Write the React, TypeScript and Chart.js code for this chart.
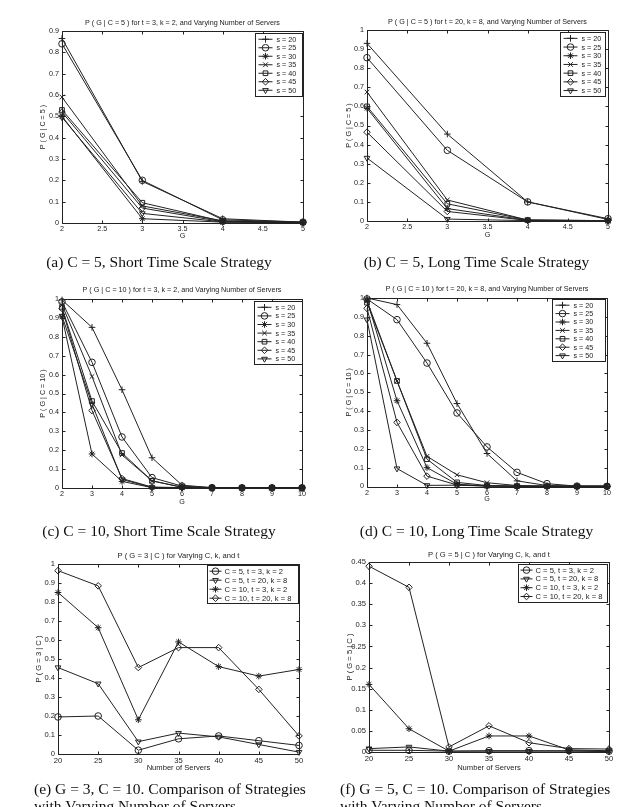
import React, { useEffect, useRef } from "react";
import { Chart, registerables } from "chart.js";
import { drawPoint } from "chart.js/helpers";

Chart.register(...registerables);

const INK = "#222222";
const SANS = '"Liberation Sans", Arial, Helvetica, sans-serif';
const SERIF = '"Liberation Serif", "Times New Roman", serif';

// ---- data ---------------------------------------------------------------

const SERVERS = [20, 25, 30, 35, 40, 45, 50];
const G_C5 = [2, 3, 4, 5];
const G_C10 = [2, 3, 4, 5, 6, 7, 8, 9, 10];

// P(G | C = 5), t = 3, k = 2 : one row per server count (s = 20 .. 50), columns G = 2..5
const SHORT_C5 = [
  [0.865, 0.195, 0.02, 0.004],
  [0.84, 0.2, 0.015, 0.004],
  [0.5, 0.02, 0.004, 0.002],
  [0.59, 0.08, 0.01, 0.003],
  [0.53, 0.095, 0.008, 0.003],
  [0.52, 0.07, 0.006, 0.003],
  [0.495, 0.045, 0.005, 0.002],
];

// P(G | C = 5), t = 20, k = 8
const LONG_C5 = [
  [0.93, 0.455, 0.1, 0.008],
  [0.855, 0.37, 0.1, 0.012],
  [0.59, 0.065, 0.004, 0.002],
  [0.675, 0.11, 0.005, 0.002],
  [0.6, 0.09, 0.005, 0.002],
  [0.465, 0.05, 0.003, 0.002],
  [0.33, 0.01, 0.002, 0.001],
];

// P(G | C = 10), t = 3, k = 2 : columns G = 2..10
const SHORT_C10 = [
  [0.995, 0.85, 0.52, 0.16, 0.015, 0.002, 0.001, 0.001, 0.001],
  [0.985, 0.665, 0.27, 0.055, 0.01, 0.002, 0.001, 0.001, 0.001],
  [0.905, 0.18, 0.035, 0.002, 0.002, 0.001, 0.001, 0.001, 0.001],
  [0.97, 0.59, 0.175, 0.038, 0.004, 0.001, 0.001, 0.001, 0.001],
  [0.955, 0.46, 0.185, 0.038, 0.004, 0.001, 0.001, 0.001, 0.001],
  [0.95, 0.41, 0.05, 0.005, 0.002, 0.001, 0.001, 0.001, 0.001],
  [0.91, 0.445, 0.045, 0.003, 0.002, 0.001, 0.001, 0.001, 0.001],
];

// P(G | C = 10), t = 20, k = 8
const LONG_C10 = [
  [1.0, 0.965, 0.76, 0.44, 0.175, 0.03, 0.005, 0.001, 0.001],
  [0.995, 0.885, 0.655, 0.39, 0.21, 0.075, 0.015, 0.002, 0.001],
  [0.99, 0.455, 0.1, 0.012, 0.003, 0.001, 0.001, 0.001, 0.001],
  [0.985, 0.56, 0.16, 0.062, 0.02, 0.005, 0.002, 0.001, 0.001],
  [0.975, 0.56, 0.145, 0.022, 0.005, 0.002, 0.001, 0.001, 0.001],
  [0.945, 0.34, 0.055, 0.008, 0.003, 0.001, 0.001, 0.001, 0.001],
  [0.885, 0.095, 0.006, 0.007, 0.002, 0.001, 0.001, 0.001, 0.001],
];

const SERVER_LABELS = SERVERS.map((s) => `s = ${s}`);

const STRATEGY_LABELS = [
  "C = 5, t = 3, k = 2",
  "C = 5, t = 20, k = 8",
  "C = 10, t = 3, k = 2",
  "C = 10, t = 20, k = 8",
];
const STRATEGY_TABLES = [SHORT_C5, LONG_C5, SHORT_C10, LONG_C10];
// columns G = 3 and G = 5 across server counts
const AT_G3 = STRATEGY_TABLES.map((t) => t.map((row) => row[G_C5.indexOf(3)]));
const AT_G5 = STRATEGY_TABLES.map((t) => t.map((row) => row[G_C5.indexOf(5)]));

// ---- marker styles --------------------------------------------------------

type Marker = { style: string; rotation?: number };
const SERVER_MARKERS: Marker[] = [
  { style: "cross" },
  { style: "circle" },
  { style: "star" },
  { style: "crossRot" },
  { style: "rect" },
  { style: "rectRot" },
  { style: "triangle", rotation: 180 },
];
const STRATEGY_MARKERS: Marker[] = [
  { style: "circle" },
  { style: "triangle", rotation: 180 },
  { style: "star" },
  { style: "rectRot" },
];

// ---- plugins --------------------------------------------------------------

// Closed box with inward tick marks on all four sides.
const axesBox = {
  id: "axesBox",
  afterDatasetsDraw(chart: any) {
    const { ctx, chartArea: a, scales } = chart;
    const x = scales.x;
    const y = scales.y;
    const L = Math.round(a.left) + 0.5;
    const R = Math.round(a.right) + 0.5;
    const T = Math.round(a.top) + 0.5;
    const B = Math.round(a.bottom) + 0.5;
    const len = 3;
    ctx.save();
    ctx.strokeStyle = INK;
    ctx.lineWidth = 1;
    ctx.beginPath();
    ctx.rect(L, T, R - L, B - T);
    x.ticks.forEach((t: any) => {
      const px = Math.round(x.getPixelForValue(t.value)) + 0.5;
      ctx.moveTo(px, B);
      ctx.lineTo(px, B - len);
      ctx.moveTo(px, T);
      ctx.lineTo(px, T + len);
    });
    y.ticks.forEach((t: any) => {
      const py = Math.round(y.getPixelForValue(t.value)) + 0.5;
      ctx.moveTo(L, py);
      ctx.lineTo(L + len, py);
      ctx.moveTo(R, py);
      ctx.lineTo(R - len, py);
    });
    ctx.stroke();
    ctx.restore();
  },
};

// Boxed legend in the upper right corner, line sample with marker in the middle.
const boxLegend = {
  id: "boxLegend",
  afterDraw(chart: any, _args: any, o: any) {
    if (!o || !o.show) return;
    const { ctx, chartArea: a } = chart;
    const sets = chart.data.datasets;
    ctx.save();
    ctx.font = `${o.fontSize}px ${SANS}`;
    const w = o.width;
    const h = o.padTop * 2 + o.rowH * sets.length;
    const x0 = Math.round(a.right - o.offsetRight - w) + 0.5;
    const y0 = Math.round(a.top + o.offsetTop) + 0.5;
    ctx.fillStyle = "#fff";
    ctx.fillRect(x0, y0, w, h);
    ctx.strokeStyle = INK;
    ctx.lineWidth = 1;
    ctx.strokeRect(x0, y0, Math.round(w), Math.round(h));
    sets.forEach((d: any, i: number) => {
      const cy = y0 + o.padTop + o.rowH * (i + 0.5);
      const sx = x0 + o.padLeft;
      ctx.beginPath();
      ctx.moveTo(sx, cy);
      ctx.lineTo(sx + o.sample, cy);
      ctx.stroke();
      ctx.fillStyle = "rgba(0,0,0,0)";
      drawPoint(
        ctx,
        {
          pointStyle: d.pointStyle,
          rotation: d.pointRotation || 0,
          radius: d.pointRadius,
          borderWidth: 1,
        } as any,
        sx + o.sample / 2,
        cy
      );
      ctx.fillStyle = INK;
      ctx.textBaseline = "middle";
      ctx.textAlign = "left";
      ctx.fillText(d.label, sx + o.sample + o.gap, cy + 0.5);
    });
    ctx.restore();
  },
};

// ---- panels ---------------------------------------------------------------

type Legend = {
  width: number;
  offsetRight: number;
  offsetTop: number;
  rowH: number;
  padTop: number;
  padLeft: number;
  sample: number;
  gap: number;
};

type PanelSpec = {
  box: [number, number, number, number]; // canvas left, top, width, height
  area: [number, number, number, number]; // plot area left, top, right, bottom
  titleY: number;
  yTitleX: number;
  xTitleY: number;
  font: number;
  title: string;
  xTitle: string;
  yTitle: string;
  xs: number[];
  xMin: number;
  xMax: number;
  xStep: number;
  yMax: number;
  yStep: number;
  labels: string[];
  markers: Marker[];
  series: number[][];
  legend: Legend;
};

function buildConfig(p: PanelSpec): any {
  const [cl, ct, cw, ch] = p.box;
  const [L, T, R, B] = p.area;
  const lh = p.font * 1.2;
  const titlePadTop = p.titleY - ct - lh / 2;
  const titlePadBottom = T - ct - titlePadTop - lh;
  const yAxisW = L - (p.yTitleX - lh / 2);
  const xAxisH = p.xTitleY + lh / 2 - B;
  const font = { family: SANS, size: p.font, lineHeight: 1.2 };
  const fmt = (v: any) => String(Number(Number(v).toFixed(3)));

  return {
    type: "line",
    data: {
      datasets: p.series.map((vals, i) => ({
        label: p.labels[i],
        data: p.xs.map((x, j) => ({ x, y: vals[j] })),
        borderColor: INK,
        borderWidth: 1,
        backgroundColor: "rgba(0,0,0,0)",
        pointStyle: p.markers[i].style,
        pointRotation: p.markers[i].rotation || 0,
        pointRadius: 3.3,
        pointBorderWidth: 1,
        pointBorderColor: INK,
        pointBackgroundColor: "rgba(0,0,0,0)",
        tension: 0,
        clip: false,
      })),
    },
    options: {
      responsive: false,
      animation: false,
      devicePixelRatio: 1,
      events: [],
      layout: {
        padding: {
          left: L - cl - yAxisW,
          right: cl + cw - R,
          top: 0,
          bottom: ct + ch - B - xAxisH,
        },
      },
      plugins: {
        legend: { display: false },
        tooltip: { enabled: false },
        title: {
          display: true,
          text: p.title,
          fullSize: false,
          color: INK,
          font: { ...font, weight: "normal" },
          padding: { top: titlePadTop, bottom: titlePadBottom },
        },
        boxLegend: { show: true, fontSize: p.font, ...p.legend },
      },
      scales: {
        x: {
          type: "linear",
          min: p.xMin,
          max: p.xMax,
          ticks: {
            stepSize: p.xStep,
            autoSkip: false,
            maxRotation: 0,
            padding: 2,
            color: INK,
            font,
            callback: fmt,
          },
          grid: { display: false, drawTicks: false, tickLength: 0 },
          border: { display: false },
          title: { display: true, text: p.xTitle, color: INK, font, padding: 0 },
          afterFit: (s: any) => {
            s.height = xAxisH;
          },
        },
        y: {
          type: "linear",
          min: 0,
          max: p.yMax,
          ticks: {
            stepSize: p.yStep,
            autoSkip: false,
            padding: 3,
            color: INK,
            font,
            callback: fmt,
          },
          grid: { display: false, drawTicks: false, tickLength: 0 },
          border: { display: false },
          title: { display: true, text: p.yTitle, color: INK, font, padding: 0 },
          afterFit: (s: any) => {
            s.width = yAxisW;
          },
        },
      },
    },
    plugins: [axesBox, boxLegend],
  };
}

const SERVER_LEGEND_BASE = { rowH: 8.5, padTop: 1.5, padLeft: 3, sample: 14, gap: 4 };

const PANELS: PanelSpec[] = [
  {
    box: [0, 0, 318, 250],
    area: [62, 31, 303, 223],
    titleY: 22.7,
    yTitleX: 43,
    xTitleY: 236.5,
    font: 7.2,
    title: "P ( G | C = 5 ) for t = 3, k = 2, and Varying Number of Servers",
    xTitle: "G",
    yTitle: "P ( G | C = 5 )",
    xs: G_C5,
    xMin: 2,
    xMax: 5,
    xStep: 0.5,
    yMax: 0.9,
    yStep: 0.1,
    labels: SERVER_LABELS,
    markers: SERVER_MARKERS,
    series: SHORT_C5,
    legend: { ...SERVER_LEGEND_BASE, width: 47, offsetRight: 1, offsetTop: 2 },
  },
  {
    box: [318, 0, 317, 250],
    area: [367, 30, 608, 221],
    titleY: 22,
    yTitleX: 349,
    xTitleY: 235.5,
    font: 7.2,
    title: "P ( G | C = 5 ) for t = 20, k = 8, and Varying Number of Servers",
    xTitle: "G",
    yTitle: "P ( G | C = 5 )",
    xs: G_C5,
    xMin: 2,
    xMax: 5,
    xStep: 0.5,
    yMax: 1,
    yStep: 0.1,
    labels: SERVER_LABELS,
    markers: SERVER_MARKERS,
    series: LONG_C5,
    legend: { ...SERVER_LEGEND_BASE, rowH: 8.7, width: 45, offsetRight: 3, offsetTop: 2 },
  },
  {
    box: [0, 268, 318, 250],
    area: [62, 299, 302, 488],
    titleY: 290,
    yTitleX: 43,
    xTitleY: 502,
    font: 7.2,
    title: "P ( G | C = 10 ) for t = 3, k = 2, and Varying Number of Servers",
    xTitle: "G",
    yTitle: "P ( G | C = 10 )",
    xs: G_C10,
    xMin: 2,
    xMax: 10,
    xStep: 1,
    yMax: 1,
    yStep: 0.1,
    labels: SERVER_LABELS,
    markers: SERVER_MARKERS,
    series: SHORT_C10,
    legend: { ...SERVER_LEGEND_BASE, rowH: 8.6, width: 48, offsetRight: 0, offsetTop: 1.5 },
  },
  {
    box: [318, 268, 317, 250],
    area: [367, 298, 607, 486.5],
    titleY: 289,
    yTitleX: 349,
    xTitleY: 499.5,
    font: 7.2,
    title: "P ( G | C = 10 ) for t = 20, k = 8, and Varying Number of Servers",
    xTitle: "G",
    yTitle: "P ( G | C = 10 )",
    xs: G_C10,
    xMin: 2,
    xMax: 10,
    xStep: 1,
    yMax: 1,
    yStep: 0.1,
    labels: SERVER_LABELS,
    markers: SERVER_MARKERS,
    series: LONG_C10,
    legend: { ...SERVER_LEGEND_BASE, rowH: 8.4, width: 53, offsetRight: 2, offsetTop: 1 },
  },
  {
    box: [0, 535, 318, 250],
    area: [58, 564, 299, 754],
    titleY: 556,
    yTitleX: 39,
    xTitleY: 767.5,
    font: 7.6,
    title: "P ( G = 3 | C ) for Varying C, k, and t",
    xTitle: "Number of Servers",
    yTitle: "P ( G = 3 | C )",
    xs: SERVERS,
    xMin: 20,
    xMax: 50,
    xStep: 5,
    yMax: 1,
    yStep: 0.1,
    labels: STRATEGY_LABELS,
    markers: STRATEGY_MARKERS,
    series: AT_G3,
    legend: { rowH: 9, padTop: 1.2, padLeft: 2, sample: 12, gap: 3, width: 91, offsetRight: 1, offsetTop: 0.5 },
  },
  {
    box: [318, 535, 317, 250],
    area: [369, 562, 609, 752],
    titleY: 555,
    yTitleX: 350,
    xTitleY: 767.5,
    font: 7.6,
    title: "P ( G = 5 | C ) for Varying C, k, and t",
    xTitle: "Number of Servers",
    yTitle: "P ( G = 5 | C )",
    xs: SERVERS,
    xMin: 20,
    xMax: 50,
    xStep: 5,
    yMax: 0.45,
    yStep: 0.05,
    labels: STRATEGY_LABELS,
    markers: STRATEGY_MARKERS,
    series: AT_G5,
    legend: { rowH: 8.8, padTop: 1.2, padLeft: 2, sample: 12, gap: 3, width: 89, offsetRight: 2, offsetTop: 2 },
  },
];

type Caption = { lines: string[]; left: number; width: number; top: number; align: "center" | "left" };
const CAPTIONS: Caption[] = [
  { lines: ["(a) C = 5, Short Time Scale Strategy"], left: 0, width: 318, top: 253, align: "center" },
  { lines: ["(b) C = 5, Long Time Scale Strategy"], left: 318, width: 317, top: 253, align: "center" },
  { lines: ["(c) C = 10, Short Time Scale Strategy"], left: 0, width: 318, top: 522, align: "center" },
  { lines: ["(d) C = 10, Long Time Scale Strategy"], left: 318, width: 317, top: 522, align: "center" },
  {
    lines: ["(e) G = 3, C = 10. Comparison of Strategies", "with Varying Number of Servers"],
    left: 34,
    width: 290,
    top: 780,
    align: "left",
  },
  {
    lines: ["(f) G = 5, C = 10. Comparison of Strategies", "with Varying Number of Servers"],
    left: 340,
    width: 290,
    top: 780,
    align: "left",
  },
];

function Panel({ spec }: { spec: PanelSpec }) {
  const ref = useRef<HTMLCanvasElement>(null);
  useEffect(() => {
    if (!ref.current) return;
    const chart = new Chart(ref.current, buildConfig(spec));
    return () => chart.destroy();
  }, [spec]);
  const [l, t, w, h] = spec.box;
  return (
    <canvas
      ref={ref}
      width={w}
      height={h}
      style={{ position: "absolute", left: l, top: t, width: w, height: h }}
    />
  );
}

export default function App() {
  return (
    <div
      style={{
        position: "absolute",
        left: 0,
        top: 0,
        width: 635,
        height: 807,
        overflow: "hidden",
        background: "#fff",
      }}
    >
      {PANELS.map((p, i) => (
        <Panel key={i} spec={p} />
      ))}
      {CAPTIONS.map((c, i) => (
        <div
          key={`c${i}`}
          style={{
            position: "absolute",
            left: c.left,
            top: c.top,
            width: c.width,
            textAlign: c.align,
            fontFamily: SERIF,
            fontSize: 15.5,
            lineHeight: "17px",
            color: "#111",
            whiteSpace: "nowrap",
          }}
        >
          {c.lines.map((ln, j) => (
            <div key={j}>{ln}</div>
          ))}
        </div>
      ))}
    </div>
  );
}
